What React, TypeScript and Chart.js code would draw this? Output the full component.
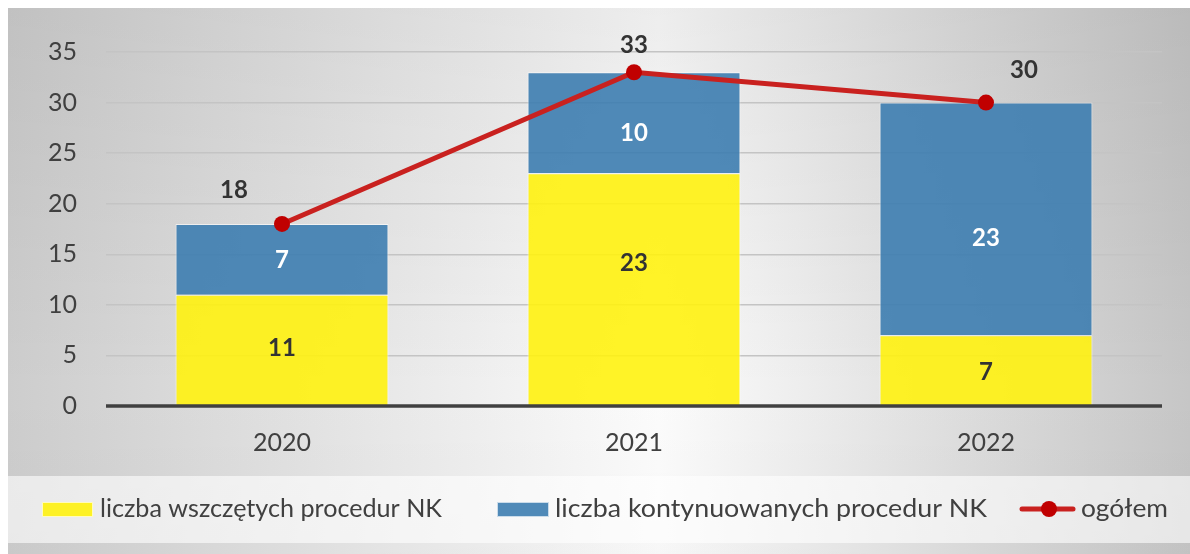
import React, { useEffect, useRef } from 'react';
import { Chart, registerables } from 'chart.js';

Chart.register(...registerables);

const years = ['2020', '2021', '2022'];
const started = [11, 23, 7];
const continued = [7, 10, 23];
const total = [18, 33, 30];
const yTickValues = [0, 5, 10, 15, 20, 25, 30, 35];
const seriesNames = ['liczba wszczętych procedur NK', 'liczba kontynuowanych procedur NK', 'ogółem'];

const FONT = 'Lato, "Open Sans", sans-serif';
const TEXT = '#404040';
const YELLOW = 'rgba(255, 242, 16, 0.9)';
const BLUE = 'rgba(61, 125, 176, 0.9)';
const RED_LINE = '#c9211f';
const RED_POINT = '#c00000';

const backgroundPlugin = {
  id: 'bg',
  beforeDraw(chart: any) {
    const { ctx, width, height } = chart;
    ctx.save();
    const g = ctx.createLinearGradient(0, 0, width, 0);
    g.addColorStop(0, '#cdcdcd');
    g.addColorStop(0.55, '#fcfcfc');
    g.addColorStop(1, '#c6c6c6');
    ctx.fillStyle = g;
    ctx.fillRect(0, 0, width, height);
    const v = ctx.createLinearGradient(0, 0, 0, height);
    v.addColorStop(0, 'rgba(0,0,0,0.06)');
    v.addColorStop(0.7, 'rgba(0,0,0,0)');
    v.addColorStop(1, 'rgba(0,0,0,0.02)');
    ctx.fillStyle = v;
    ctx.fillRect(0, 0, width, height);
    // legend band
    ctx.fillStyle = 'rgba(255,255,255,0.6)';
    ctx.fillRect(0, 468, width, 67);
    ctx.restore();
  },
};

const labelsPlugin = {
  id: 'labels',
  afterDatasetsDraw(chart: any) {
    const { ctx, chartArea, scales } = chart;
    ctx.save();
    // zero axis line
    const y0 = scales.y.getPixelForValue(0);
    ctx.strokeStyle = '#404040';
    ctx.lineWidth = 3.5;
    ctx.beginPath();
    ctx.moveTo(chartArea.left, y0);
    ctx.lineTo(chartArea.right, y0);
    ctx.stroke();

    ctx.textAlign = 'center';
    ctx.textBaseline = 'middle';
    ctx.font = `bold 24px ${FONT}`;
    const colors = ['#333333', '#ffffff'];
    const segOffsets = [[-3, -27, 1], [0, 9.5, 18.5]];
    [0, 1].forEach((di) => {
      const meta = chart.getDatasetMeta(di);
      meta.data.forEach((el: any, i: number) => {
        const val = chart.data.datasets[di].data[i];
        ctx.fillStyle = colors[di];
        ctx.fillText(String(val), el.x, (el.y + el.base) / 2 + 1 + segOffsets[di][i]);
      });
    });
    const offsets = [[-48, -34], [0, -27], [38, -32]];
    const lineMeta = chart.getDatasetMeta(2);
    ctx.fillStyle = '#333333';
    lineMeta.data.forEach((el: any, i: number) => {
      const val = chart.data.datasets[2].data[i];
      ctx.fillText(String(val), el.x + offsets[i][0], el.y + offsets[i][1]);
    });
    ctx.restore();
  },
  afterDraw(chart: any) {
    const { ctx } = chart;
    const ds = chart.data.datasets;
    ctx.save();
    ctx.textBaseline = 'middle';
    ctx.textAlign = 'left';
    const cy = 501;
    const drawFit = (text: string, x: number, w: number) => {
      ctx.font = `25px ${FONT}`;
      const m = ctx.measureText(text).width;
      const sx = Math.max(0.9, Math.min(1.1, w / m));
      ctx.save();
      ctx.translate(x, cy);
      ctx.scale(sx, 1);
      ctx.fillStyle = TEXT;
      ctx.fillText(text, 0, 0);
      ctx.restore();
    };
    // item 1
    ctx.fillStyle = ds[0].backgroundColor;
    ctx.fillRect(34, 494, 51, 15);
    ctx.strokeStyle = 'rgba(255,255,255,0.7)';
    ctx.lineWidth = 1;
    ctx.strokeRect(34.5, 494.5, 50, 14);
    drawFit(ds[0].label, 92, 342);
    // item 2
    ctx.fillStyle = ds[1].backgroundColor;
    ctx.fillRect(489, 494, 52, 15);
    ctx.strokeStyle = 'rgba(255,255,255,0.7)';
    ctx.strokeRect(489.5, 494.5, 51, 14);
    drawFit(ds[1].label, 547, 432);
    // item 3
    ctx.strokeStyle = ds[2].borderColor;
    ctx.lineWidth = 5;
    ctx.lineCap = 'round';
    ctx.beginPath();
    ctx.moveTo(1014, cy);
    ctx.lineTo(1065, cy);
    ctx.stroke();
    ctx.fillStyle = ds[2].pointBackgroundColor;
    ctx.beginPath();
    ctx.arc(1041, cy, 8, 0, Math.PI * 2);
    ctx.fill();
    drawFit(ds[2].label, 1073, 87);
    ctx.restore();
  },
};

export default function App() {
  const ref = useRef<HTMLCanvasElement>(null);
  useEffect(() => {
    Chart.defaults.font.family = FONT;
    const chart = new Chart(ref.current as HTMLCanvasElement, {
      type: 'bar',
      data: {
        labels: years,
        datasets: [
          {
            type: 'bar',
            label: seriesNames[0],
            data: started,
            backgroundColor: YELLOW,
            borderColor: 'rgba(255,255,255,0.7)',
            borderWidth: 1,
            categoryPercentage: 1,
            barPercentage: 0.605,
            order: 1,
          },
          {
            type: 'bar',
            label: seriesNames[1],
            data: continued,
            backgroundColor: BLUE,
            borderColor: 'rgba(255,255,255,0.6)',
            borderWidth: 1,
            categoryPercentage: 1,
            barPercentage: 0.605,
            order: 2,
          },
          {
            type: 'line',
            label: seriesNames[2],
            data: total,
            borderColor: RED_LINE,
            borderWidth: 5,
            pointRadius: 8,
            pointBackgroundColor: RED_POINT,
            pointBorderColor: RED_POINT,
            pointBorderWidth: 0,
            stack: 'total',
            order: 0,
          } as any,
        ],
      },
      options: {
        responsive: false,
        animation: false,
        layout: { padding: { left: 0, right: 28, top: 44, bottom: 0 } },
        plugins: { legend: { display: false }, tooltip: { enabled: false } },
        scales: {
          x: {
            stacked: true,
            grid: { display: false, drawTicks: false },
            border: { display: false },
            ticks: { color: TEXT, font: { size: 25 }, padding: 22 },
            afterFit: (s: any) => { s.height = 148; },
          },
          y: {
            stacked: true,
            min: 0,
            max: 35,
            afterBuildTicks: (s: any) => { s.ticks = yTickValues.map((v) => ({ value: v })); },
            ticks: { color: TEXT, font: { size: 25 }, padding: 29 },
            grid: {
              color: (c: any) => (c.tick && c.tick.value === 0 ? 'rgba(0,0,0,0)' : '#c4c4c4'),
              lineWidth: 1.5,
              drawTicks: false,
            },
            border: { display: false },
            afterFit: (s: any) => { s.width = 98; },
          },
        },
      } as any,
      plugins: [backgroundPlugin, labelsPlugin],
    });
    return () => chart.destroy();
  }, []);
  return (
    <div style={{ position: 'absolute', left: 8, top: 8, width: 1182, height: 546 }}>
      <canvas ref={ref} width={1182} height={546} style={{ width: 1182, height: 546, display: 'block' }} />
    </div>
  );
}
